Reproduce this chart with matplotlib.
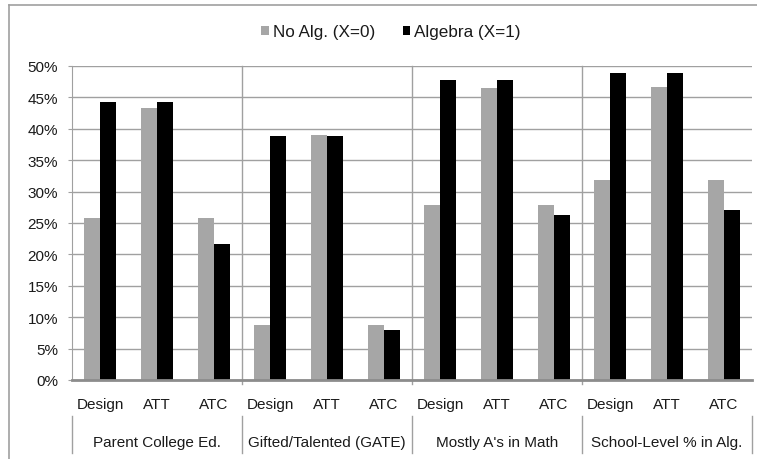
import matplotlib.pyplot as plt
import matplotlib.transforms as mtransforms
from matplotlib.lines import Line2D
from matplotlib.ticker import PercentFormatter

plt.rcParams['font.family'] = ['Liberation Sans', 'DejaVu Sans']

groups = ['Parent College Ed.', 'Gifted/Talented (GATE)', "Mostly A's in Math", 'School-Level % in Alg.']
methods = ['Design', 'ATT', 'ATC']
no_alg = [0.258, 0.433, 0.258, 0.088, 0.390, 0.088, 0.279, 0.465, 0.279, 0.318, 0.467, 0.318]
algebra = [0.443, 0.443, 0.217, 0.388, 0.388, 0.080, 0.477, 0.477, 0.262, 0.489, 0.489, 0.270]

W, H = 757, 460
fig = plt.figure(figsize=(W / 100, H / 100), dpi=100)
ax = fig.add_axes([72 / W, (H - 381) / H, (752 - 72) / W, (381 - 67) / H])

n = len(no_alg)
xs = [i + 0.5 for i in range(n)]
bw = 0.285
ax.bar([x - bw / 2 for x in xs], no_alg, width=bw, color='#a6a6a6', label='No Alg. (X=0)', zorder=3)
ax.bar([x + bw / 2 for x in xs], algebra, width=bw, color='#000000', label='Algebra (X=1)', zorder=3)

ax.set_xlim(0, n)
ax.set_ylim(0, 0.5)
ax.set_yticks([i * 0.05 for i in range(11)])
ax.yaxis.set_major_formatter(PercentFormatter(1.0, decimals=0))
ax.grid(axis='y', color='#a0a0a0', linewidth=1.0, zorder=0)
ax.set_xticks([])
ax.tick_params(axis='y', length=3, color='#a0a0a0', labelsize=11, labelcolor='#1a1a1a', pad=7)

for s in ['top', 'right']:
    ax.spines[s].set_visible(False)
ax.spines['left'].set_color('#a0a0a0')
ax.spines['bottom'].set_color('#8c8c8c')
ax.spines['bottom'].set_linewidth(2)
ax.spines['bottom'].set_zorder(4)

trans = mtransforms.blended_transform_factory(ax.transData, ax.transAxes)
for k in range(1, len(groups)):
    ax.plot([3 * k, 3 * k], [1, -0.013], transform=trans, color='#a0a0a0', lw=1, clip_on=False, zorder=2)
for k in range(len(groups) + 1):
    ax.plot([3 * k, 3 * k], [-0.115, -0.232], transform=trans, color='#a0a0a0', lw=1, clip_on=False)

for i, x in enumerate(xs):
    ax.text(x, -0.0764, methods[i % 3], transform=trans, ha='center', va='center',
            fontsize=11, color='#1a1a1a')
for k, g in enumerate(groups):
    ax.text(3 * k + 1.5, -0.197, g, transform=trans, ha='center', va='center',
            fontsize=11, color='#1a1a1a')

leg = ax.legend(loc='center', bbox_to_anchor=(391 / W, (H - 33) / H), bbox_transform=fig.transFigure,
                ncol=2, frameon=False, fontsize=12.3, handlelength=0.45, handleheight=0.45,
                handletextpad=0.25, columnspacing=1.6)
for t in leg.get_texts():
    t.set_color('#1a1a1a')

# outer chart border
fig.add_artist(Line2D([9 / W, 9 / W], [0, (H - 6) / H], color='#a0a0a0', lw=1.2, transform=fig.transFigure))
fig.add_artist(Line2D([9 / W, 1], [(H - 6) / H, (H - 6) / H], color='#a0a0a0', lw=1.2, transform=fig.transFigure))

fig.savefig('out.png', dpi=100)
